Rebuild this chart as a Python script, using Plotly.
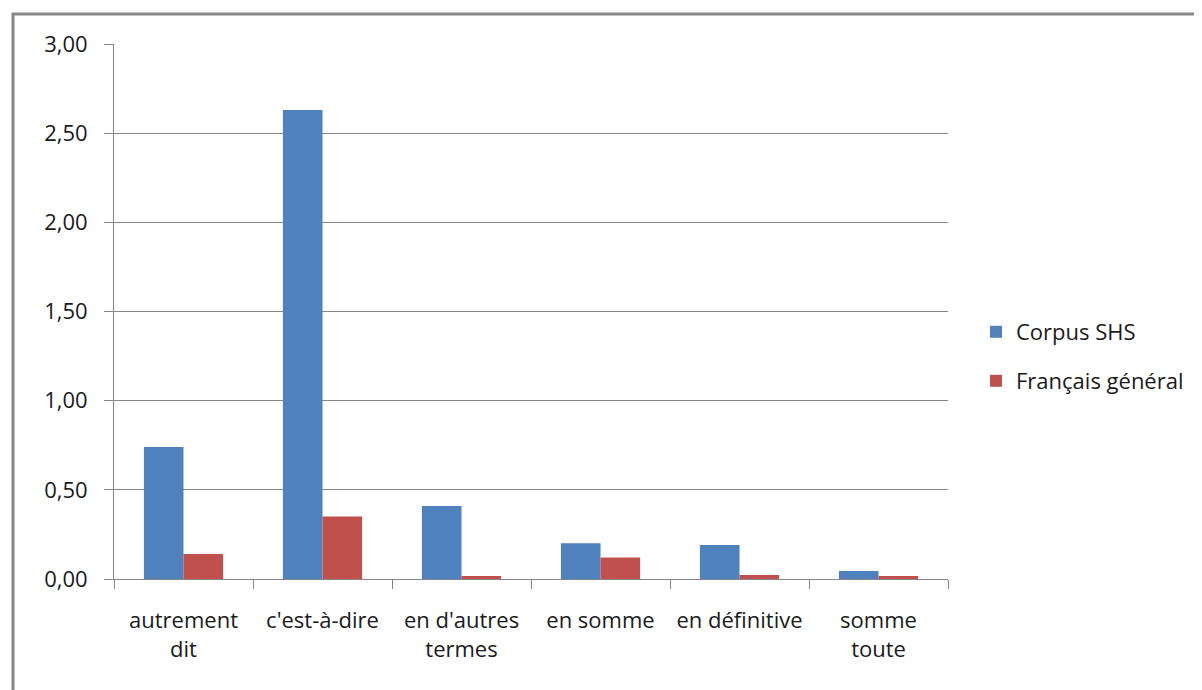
import plotly.graph_objects as go

categories = ["autrement<br>dit", "c'est-à-dire", "en d'autres<br>termes", "en somme", "en définitive", "somme<br>toute"]
corpus_shs = [0.74, 2.63, 0.41, 0.20, 0.19, 0.045]
francais_general = [0.14, 0.35, 0.017, 0.12, 0.022, 0.017]
series_names = ["Corpus SHS", "Français général"]

W, H = 1202, 690
OFF = 8  # body margin of the page
L, R, T, B = 114 - OFF, 948 - OFF, 44 - OFF, 579 - OFF
FONT = "'Open Sans', 'Noto Sans', sans-serif"
FS = 22

fig = go.Figure()
fig.add_trace(go.Bar(x=categories, y=corpus_shs, name=series_names[0], showlegend=True,
                     marker=dict(color="#4F81BD", line=dict(width=0)), legend="legend"))
fig.add_trace(go.Bar(x=categories, y=francais_general, name=series_names[1], showlegend=True,
                     marker=dict(color="#C0504D", line=dict(width=0)), legend="legend2"))

def px(x):
    return (x - OFF - L) / (R - L)

def py(y):
    return (B - (y - OFF)) / (B - T)

fig.update_layout(
    width=W, height=H,
    margin=dict(l=L, r=W - R, t=T, b=H - B),
    paper_bgcolor="white", plot_bgcolor="white",
    barmode="group", bargap=0.43, bargroupgap=0,
    separators=", ",
    showlegend=True,
    font=dict(family=FONT, size=FS, color="#1a1a1a"),
    xaxis=dict(
        showgrid=False, showline=True, linecolor="#868686", linewidth=1,
        ticks="outside", ticklen=9, tickcolor="#868686", tickson="boundaries",
        tickfont=dict(size=FS), ticklabelstandoff=22, fixedrange=True,
    ),
    yaxis=dict(
        range=[0, 3], dtick=0.5, tickformat=".2f",
        showgrid=True, gridcolor="#868686", gridwidth=1,
        showline=True, linecolor="#868686", linewidth=1,
        ticks="outside", ticklen=9, tickcolor="#868686",
        tickfont=dict(size=FS), ticklabelstandoff=12,
        zeroline=False, fixedrange=True,
    ),
    legend=dict(x=px(976), y=py(332), xanchor="left", yanchor="middle",
                font=dict(size=FS), bgcolor="rgba(0,0,0,0)"),
    legend2=dict(x=px(976), y=py(381), xanchor="left", yanchor="middle",
                 font=dict(size=FS), bgcolor="rgba(0,0,0,0)"),
    shapes=[dict(type="rect", xref="paper", yref="paper",
                 x0=px(13), x1=px(1215), y0=py(14), y1=py(705),
                 line=dict(color="#868686", width=3), fillcolor="rgba(0,0,0,0)",
                 layer="below")],
)

fig.write_html("out.html")
